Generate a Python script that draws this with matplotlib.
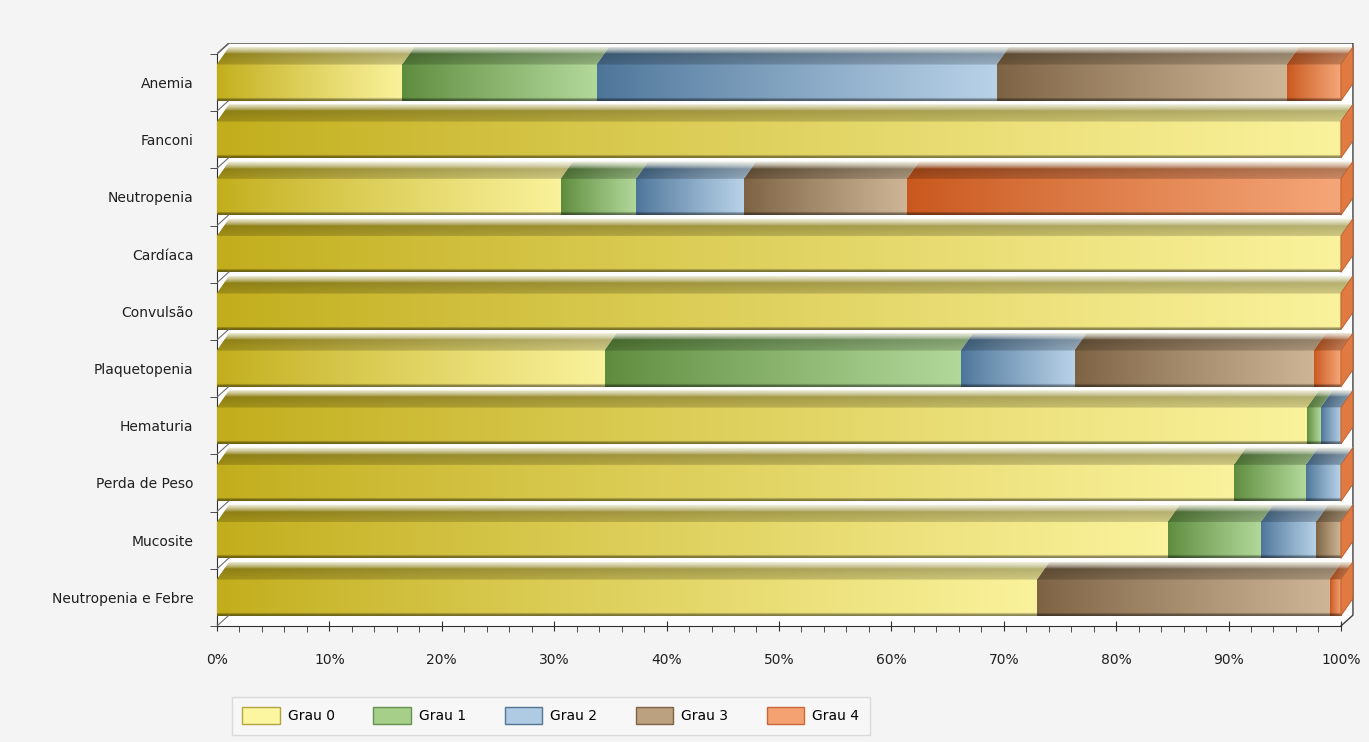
import numpy as np
import matplotlib.pyplot as plt
from matplotlib.patches import Polygon, Rectangle
from matplotlib.colors import to_rgb

# ── dados ─────────────────────────────────────────────────────────────────────
categorias = ["Anemia", "Fanconi", "Neutropenia", "Cardíaca", "Convulsão",
              "Plaquetopenia", "Hematuria", "Perda de Peso", "Mucosite",
              "Neutropenia e Febre"]
graus = ["Grau 0", "Grau 1", "Grau 2", "Grau 3", "Grau 4"]

grau0 = [16.5, 100, 30.6, 100, 100, 34.5, 97.0, 90.5, 84.6, 73.0]
grau1 = [17.3, 0, 6.7, 0, 0, 31.7, 1.2, 6.4, 8.3, 0]
grau2 = [35.6, 0, 9.6, 0, 0, 10.1, 1.8, 3.1, 4.9, 0]
grau3 = [25.8, 0, 14.5, 0, 0, 21.3, 0, 0, 2.2, 26.0]
grau4 = [4.8, 0, 38.6, 0, 0, 2.4, 0, 0, 0, 1.0]

# (escuro, claro, legenda, borda)
cores = [
    ("#c2ae1c", "#faf29c", "#fdf6a0", "#b4a440"),
    ("#5e8c3e", "#b2d89a", "#a6d08a", "#6a8f50"),
    ("#4d7599", "#b8d2e8", "#afcbe3", "#4f7494"),
    ("#7d6344", "#cdb595", "#bba17f", "#7d6344"),
    ("#c9581e", "#f5a678", "#f5a273", "#c8683a"),
]

DX, DY = 1.07, 0.19   # profundidade 3D da caixa
H = 0.32              # meia altura da face frontal
TOP = 0.30            # altura da face superior (com bisel)


def grad_row(dark, light, n=128):
    t = np.linspace(0, 1, n) ** 0.9
    d, l = np.array(to_rgb(dark)), np.array(to_rgb(light))
    return d[None, :] * (1 - t[:, None]) + l[None, :] * t[:, None]


def front_img(dark, light, m=36):
    row = grad_row(dark, light)
    img = np.repeat(row[None], m, axis=0)
    v = np.ones(m)
    v[-3:] = [0.8, 0.62, 0.55]
    v[0] = 0.9
    return np.clip(img * v[:, None, None], 0, 1)


def top_img(dark, light, m=30):
    row = grad_row(dark, light)
    y = np.linspace(0, 1, m)
    base = row[None] * (0.66 + 0.16 * y)[:, None, None]
    w = (np.clip(1 - y / 0.42, 0, 1) ** 0.7 * 0.92)[:, None, None]
    img = base * (1 - w) + w * np.array([1.0, 1.0, 0.96])
    return np.clip(img, 0, 1)


fig = plt.figure(figsize=(13.69, 7.42), dpi=100, facecolor="#f4f4f4")
ax = fig.add_axes([217 / 1369, 1 - 626 / 742, (1358 - 217) / 1369, (626 - 43) / 742])
ax.set_facecolor("none")

n = len(categorias)
y_lo, y_hi = -0.5, n - 0.5

# caixa 3D (paredes)
box = [(0, y_lo), (DX, y_lo - DY), (100 + DX, y_lo - DY), (100 + DX, y_hi - DY),
       (100, y_hi), (0, y_hi)]
ax.add_patch(Polygon(box, closed=True, facecolor="#fdfdfd", edgecolor="none", zorder=0))
ax.plot([0, DX, 100 + DX, 100 + DX, 100],
        [y_lo, y_lo - DY, y_lo - DY, y_hi - DY, y_hi],
        color="#404040", lw=1.0, zorder=1)
for b in np.arange(y_lo, y_hi + 0.01, 1.0):
    ax.plot([0, DX], [b, b - DY], color="#707070", lw=0.8, zorder=4)

series = [grau0, grau1, grau2, grau3, grau4]
for i in range(n):
    left = 0.0
    for k, vals in enumerate(series):
        w = vals[i]
        if w <= 0:
            continue
        dark, light = cores[k][0], cores[k][1]
        right = left + w
        ax.imshow(front_img(dark, light), extent=(left, right, i + H, i - H),
                  aspect="auto", interpolation="bilinear", zorder=3)
        poly = Polygon([(left, i - H), (right, i - H), (right + DX, i - H - TOP),
                        (left + DX, i - H - TOP)], closed=True, transform=ax.transData)
        im = ax.imshow(top_img(dark, light), extent=(left, right + DX, i - H, i - H - TOP),
                       aspect="auto", interpolation="bilinear", zorder=3)
        im.set_clip_path(poly)
        left = right
    # face lateral direita
    ax.add_patch(Polygon([(100, i - H), (100 + DX, i - H - TOP), (100 + DX, i + H - TOP),
                          (100, i + H)], closed=True, facecolor="#e07a40",
                         edgecolor="#b85a2a", lw=0.6, zorder=3))

ax.set_xlim(0, 100 + DX + 0.45)
ax.set_ylim(y_hi, y_lo - DY)

for s in ["top", "right"]:
    ax.spines[s].set_visible(False)
ax.spines["left"].set_bounds(y_lo, y_hi)
ax.spines["bottom"].set_bounds(0, 100)
for s in ["left", "bottom"]:
    ax.spines[s].set_color("#303030")

ax.set_yticks(range(n))
ax.set_yticklabels(categorias, fontsize=10, color="#202020")
ax.set_yticks(np.arange(y_lo, y_hi + 0.01, 1.0), minor=True)
ax.tick_params(axis="y", which="major", length=0, pad=17)
ax.tick_params(axis="y", which="minor", length=5, color="#303030")

ax.set_xticks(range(0, 101, 10))
ax.set_xticklabels([f"{v}%" for v in range(0, 101, 10)], fontsize=10, color="#202020")
ax.set_xticks(range(0, 101, 2), minor=True)
ax.tick_params(axis="x", which="major", length=7, direction="inout", pad=16, color="#303030")
ax.tick_params(axis="x", which="minor", length=4, color="#303030")

handles = [Rectangle((0, 0), 1, 1, facecolor=c[2], edgecolor=c[3], lw=1.0) for c in cores]
leg = fig.legend(handles, graus, loc="upper left",
                 bbox_to_anchor=(232 / 1369, 1 - 697 / 742), ncol=5, fontsize=10,
                 handlelength=2.7, handleheight=1.5, columnspacing=2.75,
                 handletextpad=0.6, borderpad=0.75, borderaxespad=0,
                 fancybox=False, frameon=True)
leg.get_frame().set_facecolor("#f9f9f9")
leg.get_frame().set_edgecolor("#d4d4d4")

fig.savefig("out.png", dpi=100, facecolor=fig.get_facecolor())
